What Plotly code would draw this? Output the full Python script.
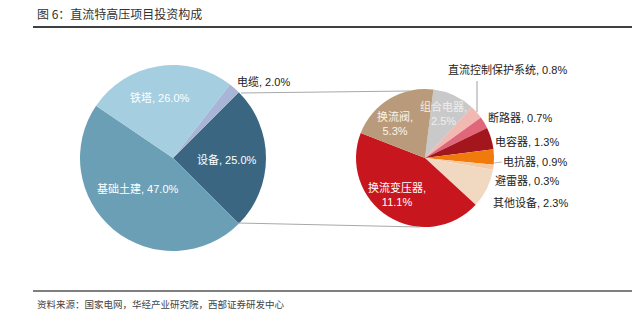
import plotly.graph_objects as go

W, H = 632, 335

# ---- data ----
main_labels = ["设备", "基础土建", "铁塔", "电缆"]
main_values = [25.0, 47.0, 26.0, 2.0]
main_colors = ["#3B6682", "#6B9FB6", "#A5CEE0", "#A9B5D6"]

sub_labels = ["组合电器", "直流控制保护系统", "断路器", "电容器", "电抗器", "避雷器", "其他设备", "换流变压器", "换流阀"]
sub_values = [2.5, 0.8, 0.7, 1.3, 0.9, 0.3, 2.3, 11.1, 5.3]
sub_colors = ["#C9C9C9", "#F2B8B2", "#E0677A", "#A3161E", "#F07B0C", "#F6C9A2", "#F1D8C0", "#C8161F", "#B99B7B"]

title_text = "图 6：直流特高压项目投资构成"
source_text = "资料来源：国家电网，华经产业研究院，西部证券研发中心"

# ---- layout helpers (pixel -> paper) ----
def px(x):
    return x / W

def py(y):
    return 1 - y / H

FONT = "Liberation Sans, Noto Sans CJK SC, sans-serif"

# pie geometry (pixels)
main_c, main_r = (173, 158), 93
sub_c, sub_r = (425, 158), 69

fig = go.Figure()
fig.add_trace(go.Pie(
    labels=main_labels, values=main_values, sort=False, direction="clockwise",
    rotation=45, textinfo="none", hoverinfo="label+percent",
    marker=dict(colors=main_colors, line=dict(width=0)),
    domain=dict(x=[px(main_c[0] - main_r), px(main_c[0] + main_r)],
                y=[py(main_c[1] + main_r), py(main_c[1] - main_r)]),
    showlegend=False,
))
fig.add_trace(go.Pie(
    labels=sub_labels, values=sub_values, sort=False, direction="clockwise",
    rotation=7, textinfo="none", hoverinfo="label+value",
    marker=dict(colors=sub_colors, line=dict(width=0)),
    domain=dict(x=[px(sub_c[0] - sub_r), px(sub_c[0] + sub_r)],
                y=[py(sub_c[1] + sub_r), py(sub_c[1] - sub_r)]),
    showlegend=False,
))

annotations = []

def label(text, x, y, color, size=11):
    annotations.append(dict(text=text, x=px(x), y=py(y), xref="paper", yref="paper",
                            showarrow=False, xanchor="center", yanchor="middle",
                            font=dict(family=FONT, size=size, color=color)))

# main pie labels (pixel positions of label centres)
main_label_pos = {"设备": (227, 159, "white"), "基础土建": (138, 188, "white"),
                  "铁塔": (160, 98, "white"), "电缆": (263, 82, "#222222")}
for lab, val in zip(main_labels, main_values):
    x, y, c = main_label_pos[lab]
    label(f"{lab}, {val:.1f}%", x, y, c)

# sub pie labels
sub_label_pos = {
    "组合电器": (443, 113, "#EEEEEE", True),
    "直流控制保护系统": (508, 69, "#222222", False),
    "断路器": (520, 118, "#222222", False),
    "电容器": (527, 142, "#222222", False),
    "电抗器": (535, 161, "#222222", False),
    "避雷器": (527, 180, "#222222", False),
    "其他设备": (530, 202, "#222222", False),
    "换流变压器": (397, 194, "white", True),
    "换流阀": (395, 123, "#FBF3EA", True),
}
for lab, val in zip(sub_labels, sub_values):
    x, y, c, two = sub_label_pos[lab]
    txt = f"{lab},<br>{val:.1f}%" if two else f"{lab}, {val:.1f}%"
    label(txt, x, y, c)

# title and source
annotations.append(dict(text=title_text, x=px(35), y=py(14), xref="paper", yref="paper",
                        showarrow=False, xanchor="left", yanchor="middle",
                        font=dict(family="Noto Sans CJK SC", size=12, color="#333333")))
annotations.append(dict(text=source_text, x=px(35), y=py(304), xref="paper", yref="paper",
                        showarrow=False, xanchor="left", yanchor="middle",
                        font=dict(family="Noto Sans CJK SC", size=9.5, color="#444444")))

shapes = [
    dict(type="line", xref="paper", yref="paper", x0=px(33), x1=px(632), y0=py(27), y1=py(27),
         line=dict(color="black", width=1.5)),
    dict(type="line", xref="paper", yref="paper", x0=px(33), x1=px(632), y0=py(291), y1=py(291),
         line=dict(color="black", width=1.2)),
    # connectors between pies
    dict(type="line", xref="paper", yref="paper", x0=px(241), y0=py(93), x1=px(410), y1=py(91),
         line=dict(color="#A8A8A8", width=1)),
    dict(type="line", xref="paper", yref="paper", x0=px(238), y0=py(223), x1=px(420), y1=py(227),
         line=dict(color="#A8A8A8", width=1)),
    # leader lines
    dict(type="line", xref="paper", yref="paper", x0=px(477), y0=py(81), x1=px(477), y1=py(112),
         line=dict(color="#888888", width=0.8)),
    dict(type="line", xref="paper", yref="paper", x0=px(494), y0=py(163), x1=px(502), y1=py(162),
         line=dict(color="#AAAAAA", width=0.8)),
]

fig.update_layout(width=W, height=H, margin=dict(l=0, r=0, t=0, b=0),
                  paper_bgcolor="white", plot_bgcolor="white",
                  annotations=annotations, shapes=shapes)

fig.write_html("out.html")
